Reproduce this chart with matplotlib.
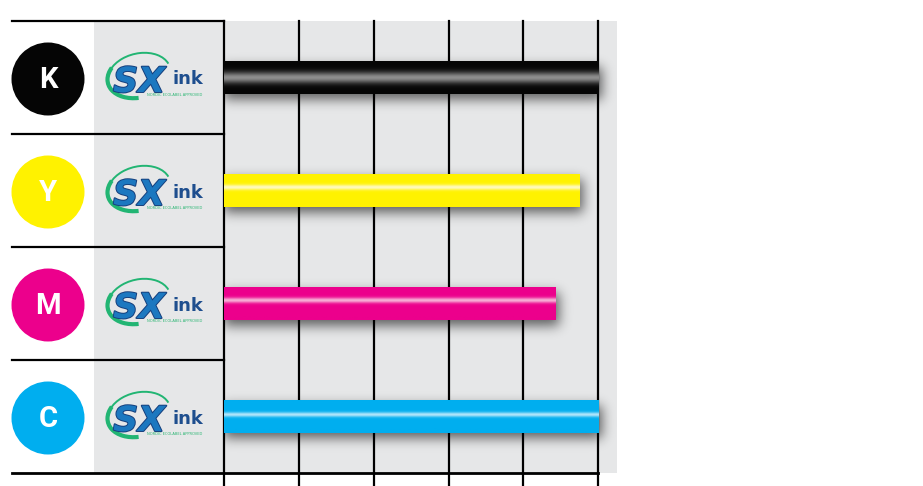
import matplotlib.pyplot as plt
from matplotlib.patches import Circle, Rectangle, Arc
import matplotlib.patheffects as pe
import numpy as np

# ink channels and their relative values (percent)
channels = ['K', 'Y', 'M', 'C']
values = [100, 95, 88.5, 100]
ticks = [0, 20, 40, 60, 80, 100]

base_colors = ['#050505', '#FFF200', '#EC008C', '#00AEEF']
hi_colors = ['#8E8E8E', '#FFFAC0', '#F7B0D6', '#B2E6FB']
hi_pos = [0.5, 0.4, 0.4, 0.44]
hi_width = [0.17, 0.08, 0.08, 0.07]

W, H = 923, 486
bg = '#E6E7E8'


def to_rgb(c):
    c = c.lstrip('#')
    return np.array([int(c[i:i + 2], 16) / 255 for i in (0, 2, 4)])


def gradient(base, hi, t0, s, n=80):
    t = np.linspace(0, 1, n)
    w = np.exp(-((t - t0) / s) ** 2)[:, None]
    col = to_rgb(base) * (1 - w) + to_rgb(hi) * w
    return col[:, None, :]


def blur(a, sigma):
    r = int(3 * sigma)
    k = np.exp(-0.5 * (np.arange(-r, r + 1) / sigma) ** 2)
    k /= k.sum()
    a = np.apply_along_axis(lambda m: np.convolve(m, k, mode='same'), 0, a)
    a = np.apply_along_axis(lambda m: np.convolve(m, k, mode='same'), 1, a)
    return a


fig = plt.figure(figsize=(W / 100, H / 100), dpi=100)

# overlay in pixel coordinates for the labels column
ov = fig.add_axes([0, 0, 1, 1])
ov.set_xlim(0, W)
ov.set_ylim(H, 0)
ov.axis('off')
ov.add_patch(Rectangle((94, 22), 130, 451, color=bg, lw=0))

top_px, bot_px = 21, 473
band = (bot_px - top_px) / 4

for i, ch in enumerate(channels):
    yc = top_px + band * (i + 0.5)
    ov.add_patch(Circle((48, yc + 1.5), 36.5, color=base_colors[i], lw=0))
    ov.text(48, yc + 2.5, ch, color='white', fontsize=21, fontweight='bold',
            family='Roboto', ha='center', va='center')
    # SX ink logo: green swoosh behind the letters
    ov.add_patch(Arc((139, yc - 2), 64, 44, angle=-14, theta1=205, theta2=352,
                     color='#22B573', lw=1.4))
    ov.add_patch(Arc((139, yc - 2), 64, 44, angle=-14, theta1=105, theta2=210,
                     color='#22B573', lw=3.0))
    ov.text(139, yc + 14.5, 'SX', fontsize=25, fontweight='bold', style='italic',
            color='#1C78C0', ha='center', va='baseline',
            path_effects=[pe.withStroke(linewidth=1.4, foreground='#163F7C')])
    ov.text(188, yc + 2, 'ink', fontsize=13, fontweight='bold', color='#1E4E8E',
            ha='center', va='center')
    ov.text(175, yc + 17, 'NORDIC ECOLABEL APPROVED', fontsize=2.6,
            color='#2BB673', ha='center', va='center')

# bar chart axes
ax = fig.add_axes([224 / W, (H - bot_px) / H, 393 / W, (bot_px - top_px) / H])
ax.set_facecolor(bg)
xmax = 105
ax.set_xlim(0, xmax)
ax.set_ylim(3.5, -0.5)
for s in ax.spines.values():
    s.set_visible(False)
ax.set_xticks([])
ax.set_yticks([])

px_x = xmax / 393
px_y = 4 / (bot_px - top_px)
below = (H - bot_px) / (bot_px - top_px)

for t in ticks:
    ax.axvline(t, ymin=-below, ymax=1, color='black', lw=1.6, clip_on=False, zorder=2)

# left-side row separators and bottom line
for yb in [-0.5, 0.5, 1.5, 2.5]:
    ax.axhline(yb, xmin=-(224 - 12) / 393, xmax=0, color='black', lw=1.6,
               clip_on=False, zorder=2)
ax.axhline(3.5, xmin=-(224 - 12) / 393, xmax=100 / xmax, color='black', lw=2,
           clip_on=False, zorder=2)

bh = 0.29

# soft drop shadow under the bars, built on the axes' data grid
gx = np.linspace(0, xmax, 393)
gy = np.linspace(-0.5, 3.5, 452)
XX, YY = np.meshgrid(gx, gy)
mask = np.zeros_like(XX)
for i, v in enumerate(values):
    sx, sy = 4 * px_x, 6 * px_y
    mask[(XX <= v + sx) & (np.abs(YY - (i + sy)) <= bh / 2)] = 1.0
sh = blur(mask, 6)
rgba = np.zeros(sh.shape + (4,))
rgba[..., 3] = np.clip(sh * 0.6, 0, 1)
ax.imshow(rgba, extent=(0, xmax, 3.5, -0.5), origin='upper', aspect='auto',
          interpolation='bilinear', zorder=1.5)

for i, v in enumerate(values):
    g = gradient(base_colors[i], hi_colors[i], hi_pos[i], hi_width[i])
    ax.imshow(g, extent=(0, v, i + bh / 2, i - bh / 2), origin='upper',
              aspect='auto', interpolation='bilinear', zorder=3)

ax.set_xlim(0, xmax)
ax.set_ylim(3.5, -0.5)

fig.savefig('out.png', dpi=100)
